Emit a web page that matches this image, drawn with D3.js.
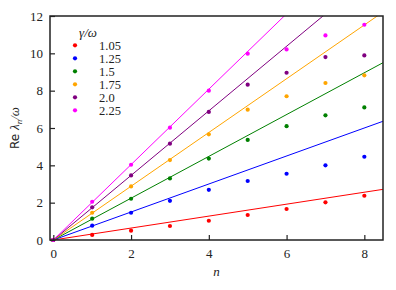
<!DOCTYPE html>
<html>
<head>
<meta charset="utf-8">
<script src="https://d3js.org/d3.v7.min.js"></script>
<style>
  body { margin: 0; background: #fff; }
</style>
</head>
<body>
<div id="chart"></div>
<script>
// legend values gamma/omega
var gammas = ["1.05", "1.25", "1.5", "1.75", "2.0", "2.25"];
var colors = ["red", "blue", "green", "orange", "purple", "magenta"];
// slopes of the straight lines
var slopes = [0.32, 0.75, 1.12, 1.44, 1.73, 2.02];
var nVals = [0, 1, 2, 3, 4, 5, 6, 7, 8];
// Re lambda_n / omega points, one array per gamma
var redPts     = [0, 0.27, 0.50, 0.75, 1.03, 1.34, 1.66, 2.02, 2.37];
var bluePts    = [0, 0.77, 1.46, 2.10, 2.69, 3.16, 3.55, 4.00, 4.46];
var greenPts   = [0, 1.14, 2.21, 3.30, 4.36, 5.36, 6.10, 6.68, 7.10];
var orangePts  = [0, 1.46, 2.87, 4.28, 5.66, 6.98, 7.70, 8.41, 8.82];
var purplePts  = [0, 1.75, 3.46, 5.16, 6.86, 8.32, 8.96, 9.80, 9.89];
var magentaPts = [0, 2.05, 4.03, 6.02, 8.00, 9.98, 10.21, 10.96, 11.53];
var series = [redPts, bluePts, greenPts, orangePts, purplePts, magentaPts];
var xTicks = [0, 2, 4, 6, 8];
var yTicks = [0, 2, 4, 6, 8, 10, 12];

var serif = "Liberation Serif";

var W = 396, H = 290;
var margin = {top: 16, right: 13, bottom: 50, left: 50};
var width = W - margin.left - margin.right,
    height = H - margin.top - margin.bottom;

var svg = d3.select("#chart").append("svg")
  .attr("width", W).attr("height", H)
  .attr("font-family", serif);
var g = svg.append("g")
  .attr("transform", "translate(" + margin.left + "," + margin.top + ")");

var x = d3.scaleLinear().domain([-0.085, 8.48]).range([0, width]);
var y = d3.scaleLinear().domain([0, 12]).range([height, 0]);

g.append("clipPath").attr("id", "clip")
  .append("rect").attr("width", width).attr("height", height);

// fitted lines
var plot = g.append("g").attr("clip-path", "url(#clip)");
slopes.forEach(function (s, i) {
  plot.append("line")
    .attr("x1", x(0)).attr("y1", y(0))
    .attr("x2", x(8.48)).attr("y2", y(s * 8.48))
    .attr("stroke", colors[i]).attr("stroke-width", 1);
});

// points
series.forEach(function (vals, i) {
  g.append("g").selectAll("circle")
    .data(vals)
    .enter().append("circle")
    .attr("cx", function (d, idx) { return x(nVals[idx]); })
    .attr("cy", function (d) { return y(d); })
    .attr("r", 2.1)
    .attr("fill", colors[i]);
});

// axes, ticks inward
var xAxis = g.append("g").attr("transform", "translate(0," + height + ")")
  .call(d3.axisBottom(x).tickValues(xTicks).tickSize(-5).tickPadding(9));
var yAxis = g.append("g")
  .call(d3.axisLeft(y).tickValues(yTicks).tickSize(-5).tickPadding(7));
[xAxis, yAxis].forEach(function (a) {
  a.attr("font-family", serif).attr("font-size", 13);
  a.select(".domain").remove();
  a.selectAll("line").attr("stroke", "#222").attr("stroke-width", 1.2);
  a.selectAll("text").attr("fill", "#222");
});

// frame
g.append("rect").attr("width", width).attr("height", height)
  .attr("fill", "none").attr("stroke", "#222").attr("stroke-width", 1.5);

// axis labels
g.append("text")
  .attr("x", width / 2).attr("y", height + 36)
  .attr("text-anchor", "middle").attr("font-size", 13)
  .attr("font-style", "italic").attr("fill", "#222").text("n");

var yl = svg.append("text")
  .attr("transform", "translate(19," + (margin.top + height / 2) + ") rotate(-90)")
  .attr("text-anchor", "middle").attr("font-size", 13).attr("fill", "#222");
yl.append("tspan").attr("font-family", "DejaVu Sans").attr("font-size", 12).text("Re ");
yl.append("tspan").attr("font-style", "italic").text("λ");
yl.append("tspan").attr("font-style", "italic").attr("font-size", 9).attr("dy", 3).text("n");
yl.append("tspan").attr("font-style", "italic").attr("dy", -3).text("/ω");

// legend
var lg = svg.append("g");
lg.append("text").attr("x", 88).attr("y", 37).attr("text-anchor", "middle")
  .attr("font-size", 13).attr("font-style", "italic").attr("fill", "#222").text("γ/ω");
gammas.forEach(function (gm, i) {
  var yy = 45.3 + i * 13;
  lg.append("circle").attr("cx", 75).attr("cy", yy).attr("r", 2.1).attr("fill", colors[i]);
  lg.append("text").attr("x", 99).attr("y", yy + 4.3)
    .attr("font-size", 12.5).attr("fill", "#222").text(gm);
});
</script>
</body>
</html>
